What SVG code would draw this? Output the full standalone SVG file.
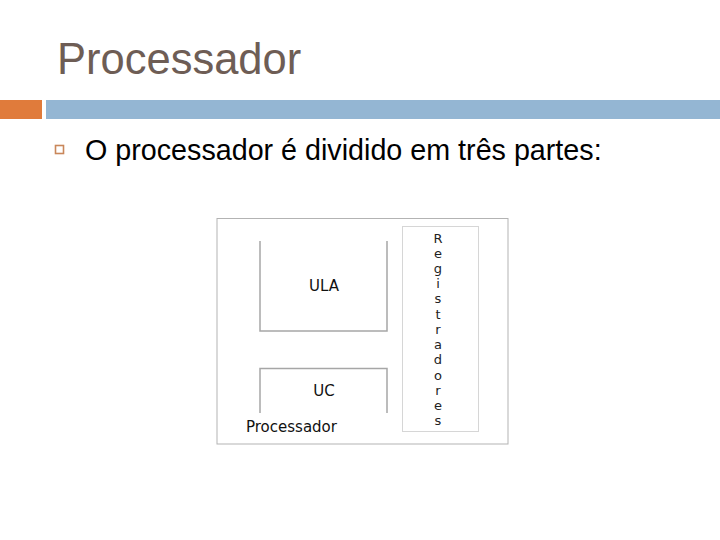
<svg xmlns="http://www.w3.org/2000/svg" width="720" height="540" viewBox="0 0 720 540">
<style>
.title{font-family:"Liberation Sans",Arial,sans-serif;font-size:43.5px;fill:#6e5d55}
.body{font-family:"Liberation Sans",Arial,sans-serif;font-size:28.7px;fill:#000}
.d{font-family:"DejaVu Sans",Verdana,sans-serif;fill:#111}
.ln{stroke:#a6a6a6;stroke-width:1.5;fill:none}
.reg{font-family:"DejaVu Sans",Verdana,sans-serif;font-size:13px;fill:#222;text-anchor:middle}
</style>
<rect width="720" height="540" fill="#fff"/>
<text class="title" x="57" y="74">Processador</text>
<rect x="0" y="100" width="42" height="19" fill="#e07b3b"/>
<rect x="46" y="100" width="674" height="19" fill="#94b6d3"/>
<rect x="55.5" y="145.5" width="8" height="8" fill="none" stroke="#c9875a" stroke-width="1.6"/>
<text class="body" x="85" y="160">O processador é dividido em três partes:</text>
<g id="processador">
<rect x="217" y="218.5" width="291" height="225.5" fill="#fff" stroke="#b3b3b3" stroke-width="1"/>
<text class="d" x="246" y="432" font-size="15">Processador</text>
</g>
<g id="ula">
<path class="ln" d="M260,241 V331 H387 V241"/>
<text class="d" x="324" y="291" font-size="15" text-anchor="middle">ULA</text>
</g>
<g id="uc">
<path class="ln" d="M260,413 V368.5 H387 V413"/>
<text class="d" x="324" y="396" font-size="15" text-anchor="middle">UC</text>
</g>
<g id="registradores">
<rect x="402.5" y="226.5" width="76" height="205" fill="#fff" stroke="#d6d6d6" stroke-width="1"/>
<text class="reg" x="438" y="243">R</text>
<text class="reg" x="438" y="258">e</text>
<text class="reg" x="438" y="273">g</text>
<text class="reg" x="438" y="288">i</text>
<text class="reg" x="438" y="303">s</text>
<text class="reg" x="438" y="319">t</text>
<text class="reg" x="438" y="334">r</text>
<text class="reg" x="438" y="349">a</text>
<text class="reg" x="438" y="364">d</text>
<text class="reg" x="438" y="380">o</text>
<text class="reg" x="438" y="395">r</text>
<text class="reg" x="438" y="410">e</text>
<text class="reg" x="438" y="425">s</text>
</g>
<g id="connectors"></g>
</svg>
